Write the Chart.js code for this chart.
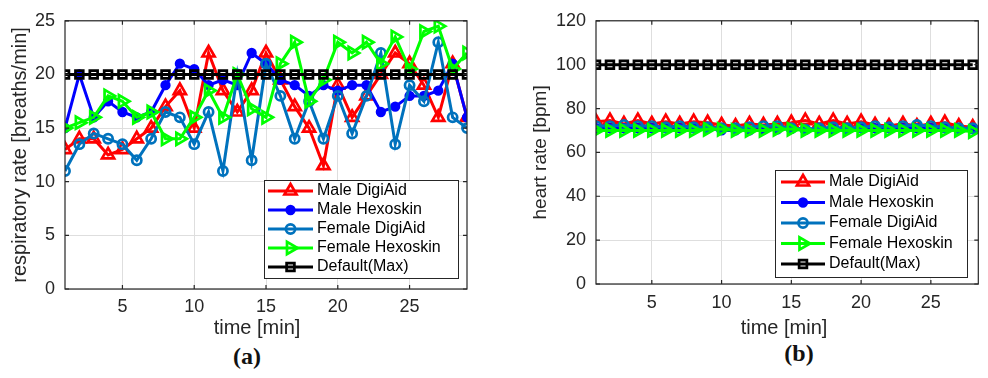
<!DOCTYPE html>
<html>
<head>
<meta charset="utf-8">
<script src="https://cdn.jsdelivr.net/npm/chart.js@4.4.1/dist/chart.umd.min.js"></script>
<style>
  body { margin: 0; background: #fff; width: 988px; height: 378px; position: relative; overflow: hidden; }
  .panel { position: absolute; top: 0; height: 340px; }
  .cap { position: absolute; width: 60px; text-align: center; font-family: "Liberation Serif", "DejaVu Serif", serif; font-weight: bold; font-size: 24px; color: #111; }
</style>
</head>
<body>
<div class="panel" style="left:0;width:490px"><canvas id="respChart"></canvas></div>
<div class="panel" style="left:494px;width:494px"><canvas id="hrChart"></canvas></div>
<div class="cap" style="left:217px;top:343px">(a)</div>
<div class="cap" style="left:769px;top:340px">(b)</div>
<script>
// respiratory rate, one reading per minute
const respMinutes = [1, 2, 3, 4, 5, 6, 7, 8, 9, 10, 11, 12, 13, 14, 15, 16, 17, 18, 19, 20, 21, 22, 23, 24, 25, 26, 27, 28, 29];
const respMaleDigiAid = [13, 14, 14, 12.5, 13, 14, 15, 17, 18.5, 15, 22, 18.5, 16.5, 18.5, 22, 19.5, 17, 15, 11.5, 19, 16, 18, 20, 22, 21, 19, 16, 21, 16];
const respMaleHexoskin = [15, 20, 16, 17.5, 16.5, 16, 16.5, 19, 21, 20.5, 19, 19.5, 19, 22, 21, 19.5, 19, 18, 19, 18.5, 19, 19, 16.5, 17, 18, 18, 18.5, 21, 16];
const respFemaleDigiAid = [11, 13.5, 14.5, 14, 13.5, 12, 14, 16.5, 16, 13.5, 16.5, 11, 20, 12, 21, 18, 14, 17.5, 14, 18, 14.5, 18, 22, 13.5, 19, 17.5, 23, 16, 15];
const respFemaleHexoskin = [15, 15.5, 16, 18, 17.5, 16, 16.5, 14, 14, 16, 18.5, 16, 20, 16.8, 16, 21, 23, 17.5, 19.5, 23, 22, 23, 21, 23.5, 20.5, 24, 24.5, 20.5, 22];
const respDefaultMax = [20, 20, 20, 20, 20, 20, 20, 20, 20, 20, 20, 20, 20, 20, 20, 20, 20, 20, 20, 20, 20, 20, 20, 20, 20, 20, 20, 20, 20];

// heart rate, one reading per minute
const hrMinutes = [1, 2, 3, 4, 5, 6, 7, 8, 9, 10, 11, 12, 13, 14, 15, 16, 17, 18, 19, 20, 21, 22, 23, 24, 25, 26, 27, 28];
const hrMaleDigiAid = [74, 74.5, 73, 74.5, 73, 74, 73, 74, 73.5, 72.5, 72, 73, 72.5, 73, 73.5, 74.5, 73, 74.5, 73, 74, 72.5, 72, 73, 72, 73, 73.5, 72, 71.5];
const hrMaleHexoskin = [71, 71, 71, 71, 71, 71, 71, 71, 71, 70, 70, 70, 70.5, 70.5, 71, 70.5, 70.5, 70.5, 70.5, 71, 71, 71, 71, 71, 71, 71, 71, 70.5];
const hrFemaleDigiAid = [72, 72, 72.5, 72, 72, 71.5, 72, 71.5, 71.5, 71, 71, 71.5, 72, 72, 71, 70.5, 71, 71.5, 71, 71.5, 72, 71.5, 72, 72.5, 72, 71.5, 71, 71];
const hrFemaleHexoskin = [70, 70, 70, 70, 70, 70, 70, 70, 70.5, 70.5, 70, 70, 70, 70.5, 70.5, 70, 70, 70, 70, 70, 70, 70, 70, 70, 70, 70, 70, 69.5];
const hrDefaultMax = [100, 100, 100, 100, 100, 100, 100, 100, 100, 100, 100, 100, 100, 100, 100, 100, 100, 100, 100, 100, 100, 100, 100, 100, 100, 100, 100, 100];

// tick labels
const timeTicks = [5, 10, 15, 20, 25];
const respTicks = [0, 5, 10, 15, 20, 25];
const hrTicks = [0, 20, 40, 60, 80, 100, 120];

Chart.defaults.font.family = '"Liberation Sans", Arial, sans-serif';
Chart.defaults.color = '#262626';

const seriesStyles = [
    { label: "Male DigiAid", color: "#ff0000", pointStyle: "triangle", rotation: 0, radius: 7 },
    { label: "Male Hexoskin", color: "#0000ff", pointStyle: "circle", rotation: 0, radius: 3.8, filled: true },
    { label: "Female DigiAid", color: "#0072bd", pointStyle: "circle", rotation: 0, radius: 4.6 },
    { label: "Female Hexoskin", color: "#00ff00", pointStyle: "triangle", rotation: 90, radius: 7 },
    { label: "Default(Max)", color: "#000000", pointStyle: "rect", rotation: 0, radius: 5.5 },
];

function buildDatasets(xs, columns) {
    return seriesStyles.map((s, i) => ({
        label: s.label,
        data: xs.map((x, j) => ({ x: x, y: columns[i][j] })),
        borderColor: s.color,
        backgroundColor: s.color,
        borderWidth: 3,
        tension: 0,
        pointStyle: s.pointStyle,
        pointRotation: s.rotation,
        pointRadius: s.radius,
        pointBorderWidth: 2.7,
        pointBorderColor: s.color,
        pointBackgroundColor: s.filled ? s.color : "rgba(0,0,0,0)",
        // later series sit on top, like hold-on plotting
        order: seriesStyles.length - i,
    }));
}

// box around the axes with small inward tick marks, plus the x label
const axesFrame = {
    id: "axesFrame",
    afterDatasetsDraw(chart, args, opts) {
        const { ctx, chartArea: a, scales } = chart;
        ctx.save();
        ctx.strokeStyle = "#262626";
        ctx.lineWidth = 1.2;
        ctx.strokeRect(a.left, a.top, a.right - a.left, a.bottom - a.top);
        ctx.beginPath();
        scales.x.ticks.forEach((t) => {
            const px = scales.x.getPixelForValue(t.value);
            ctx.moveTo(px, a.bottom); ctx.lineTo(px, a.bottom - 4);
            ctx.moveTo(px, a.top); ctx.lineTo(px, a.top + 4);
        });
        scales.y.ticks.forEach((t) => {
            const py = scales.y.getPixelForValue(t.value);
            ctx.moveTo(a.left, py); ctx.lineTo(a.left + 4, py);
            ctx.moveTo(a.right, py); ctx.lineTo(a.right - 4, py);
        });
        ctx.stroke();
        ctx.fillStyle = "#262626";
        ctx.font = '20px "Liberation Sans", Arial, sans-serif';
        ctx.textAlign = "center";
        ctx.textBaseline = "middle";
        ctx.fillText(opts.xLabel, opts.xLabelX, opts.xLabelY);
        ctx.restore();
    },
};

// legend drawn as a framed box inside the plot
const boxLegend = {
    id: "boxLegend",
    afterDraw(chart, args, opts) {
        const ctx = chart.ctx;
        ctx.save();
        ctx.fillStyle = "#fff";
        ctx.fillRect(opts.x, opts.y, opts.w, opts.h);
        ctx.strokeStyle = "#262626";
        ctx.lineWidth = 1;
        ctx.strokeRect(opts.x + 0.5, opts.y + 0.5, opts.w, opts.h);
        ctx.font = '16px "Liberation Sans", Arial, sans-serif';
        ctx.textBaseline = "middle";
        chart.data.datasets.forEach((ds, i) => {
            const cy = opts.firstRow + i * opts.rowH;
            ctx.strokeStyle = ds.borderColor;
            ctx.lineWidth = ds.borderWidth;
            ctx.beginPath();
            ctx.moveTo(opts.lineX, cy);
            ctx.lineTo(opts.lineX + opts.lineW, cy);
            ctx.stroke();
            ctx.fillStyle = ds.pointBackgroundColor;
            ctx.lineWidth = ds.pointBorderWidth;
            Chart.helpers.drawPoint(ctx, {
                pointStyle: ds.pointStyle,
                rotation: ds.pointRotation,
                radius: ds.pointRadius,
                borderWidth: ds.pointBorderWidth,
            }, opts.lineX + opts.lineW / 2, cy);
            ctx.fillStyle = "#000";
            ctx.fillText(ds.label, opts.textX, cy);
        });
        ctx.restore();
    },
};

function makeOptions(cfg) {
    return {
        responsive: true,
        maintainAspectRatio: false,
        animation: false,
        layout: { padding: { top: cfg.top, right: cfg.right, left: 0, bottom: 0 } },
        plugins: {
            legend: { display: false },
            tooltip: { enabled: false },
            axesFrame: { xLabel: "time [min]", xLabelX: cfg.xLabelX, xLabelY: 328 },
            boxLegend: cfg.legend,
        },
        scales: {
            x: {
                type: "linear",
                min: 1,
                max: cfg.xMax,
                afterBuildTicks: (s) => { s.ticks = timeTicks.map((v) => ({ value: v })); },
                afterFit: (s) => { s.height = cfg.xHeight; },
                grid: { color: "#dedede", drawTicks: false },
                border: { display: false },
                ticks: { font: { size: 18 }, padding: cfg.xPad, maxRotation: 0 },
            },
            y: {
                min: 0,
                max: cfg.yMax,
                afterBuildTicks: (s) => { s.ticks = cfg.yTicks.map((v) => ({ value: v })); },
                afterFit: (s) => { s.width = cfg.yWidth; },
                grid: { color: "#dedede", drawTicks: false },
                border: { display: false },
                ticks: { font: { size: 18 }, padding: 10 },
                title: { display: true, text: cfg.yTitle, font: { size: cfg.yTitleSize }, padding: { top: cfg.yTitlePad, bottom: 0 } },
            },
        },
    };
}

const respCtx = document.getElementById("respChart").getContext("2d");
const respChart = new Chart(respCtx, {
    type: "line",
    data: { datasets: buildDatasets(respMinutes, [respMaleDigiAid, respMaleHexoskin, respFemaleDigiAid, respFemaleHexoskin, respDefaultMax]) },
    options: makeOptions({
        top: 18, right: 23, xMax: 29, xHeight: 51, xPad: 7, yMax: 25, yTicks: respTicks, yWidth: 65,
        xLabelX: 257,
        yTitle: "respiratory rate [breaths/min]", yTitleSize: 20, yTitlePad: 8,
        legend: { x: 264, y: 180, w: 194, h: 98, firstRow: 191, rowH: 19, lineX: 268, lineW: 45, textX: 317 },
    }),
    plugins: [axesFrame, boxLegend],
});

const hrCtx = document.getElementById("hrChart").getContext("2d");
const hrChart = new Chart(hrCtx, {
    type: "line",
    data: { datasets: buildDatasets(hrMinutes, [hrMaleDigiAid, hrMaleHexoskin, hrFemaleDigiAid, hrFemaleHexoskin, hrDefaultMax]) },
    options: makeOptions({
        top: 19, right: 3, xMax: 28.4, xHeight: 56, xPad: 8.5, yMax: 120, yTicks: hrTicks, yWidth: 102,
        xLabelX: 290,
        yTitle: "heart rate [bpm]", yTitleSize: 19, yTitlePad: 35,
        legend: { x: 281, y: 170, w: 192, h: 107, firstRow: 182, rowH: 20.5, lineX: 287, lineW: 44, textX: 335 },
    }),
    plugins: [axesFrame, boxLegend],
});
</script>
</body>
</html>
